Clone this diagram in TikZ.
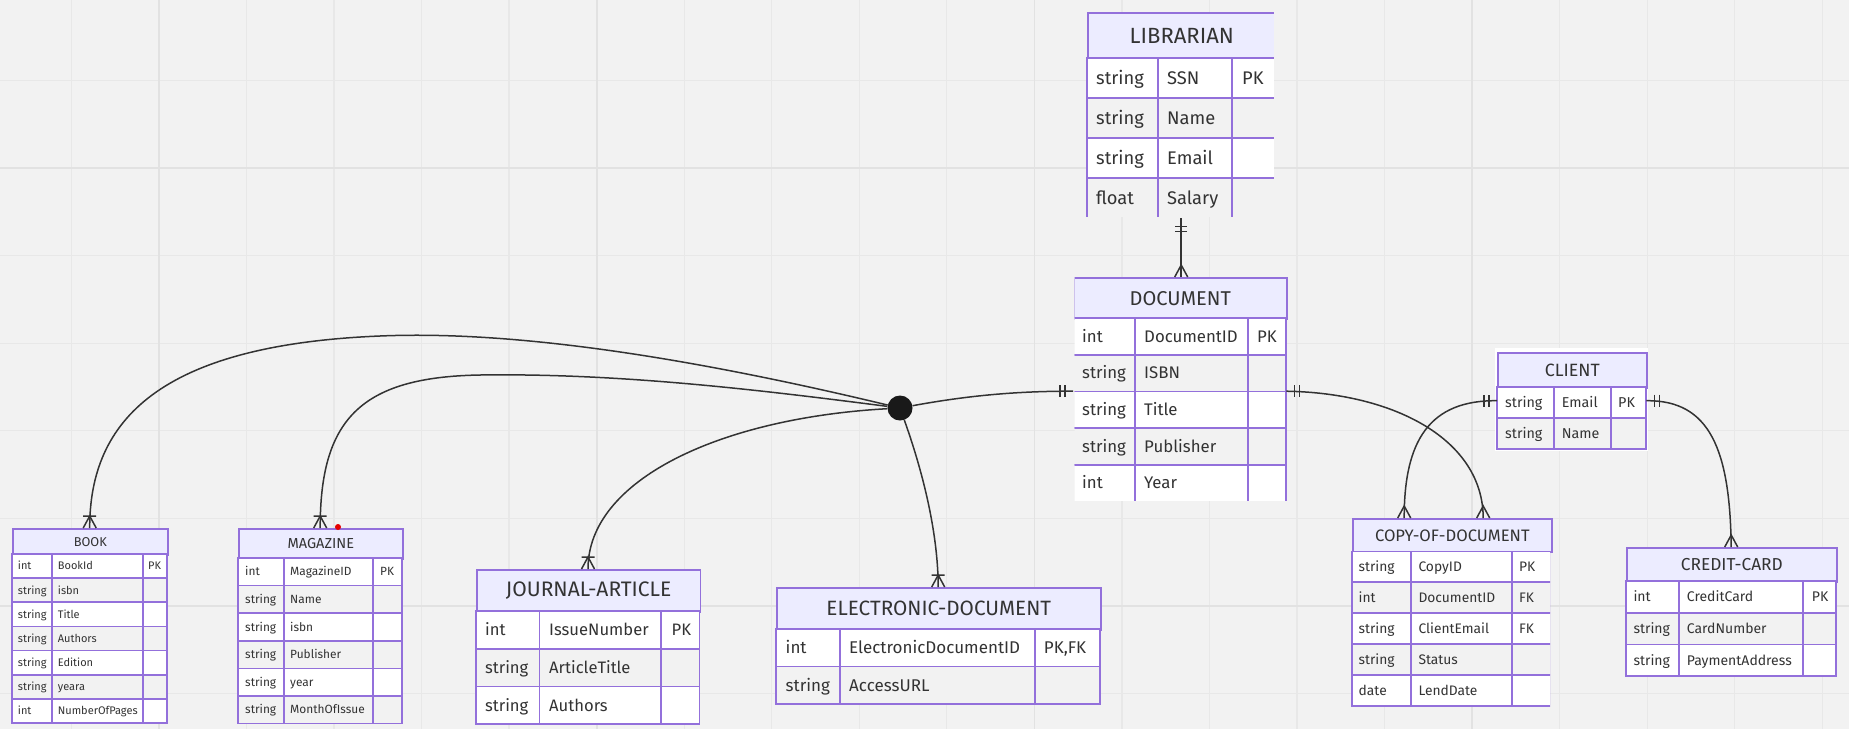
\documentclass[tikz,border=0pt]{standalone}
\usepackage{fontspec}
\setmainfont{Fira Sans}
\definecolor{bg}{HTML}{F2F2F2}
\definecolor{gridminor}{HTML}{E8E8E8}
\definecolor{gridmajor}{HTML}{E2E2E2}
\definecolor{hdrfill}{HTML}{ECECFF}
\definecolor{edge}{HTML}{9370DB}
\definecolor{rowgray}{HTML}{F2F2F2}
\definecolor{ink}{HTML}{333333}

\begin{document}
\begin{tikzpicture}[x=1pt, y=-1pt,
		entity/.style={rectangle, draw=none, anchor=north west, inner sep=0pt},
		hdr/.style={rectangle, draw=edge, line width=1.6pt, fill=hdrfill, anchor=north west, inner sep=0pt, text=ink},
		cell/.style={draw=edge, line width=1.6pt},
		attr/.style={anchor=base west, inner sep=0pt, text=ink},
		rel/.style={draw=ink, line width=1.5pt},
		hub/.style={circle, fill=black!90, inner sep=0pt, minimum size=25pt},
		reddot/.style={circle, fill=red!90!black, inner sep=0pt, minimum size=6pt},
		gridline/.style={draw=gridminor, line width=1.2pt},
		gridbold/.style={draw=gridmajor, line width=1.8pt},
		pics/many/.style={code={\draw[rel] (-6.5pt,0pt) -- (0pt,12pt) -- (6.5pt,0pt);}},
		pics/manyone/.style={code={\draw[rel] (-6.5pt,0pt) -- (0pt,12pt) -- (6.5pt,0pt) (-6.5pt,12pt) -- (6.5pt,12pt);}},
		pics/one/.style={code={\draw[rel] (-6pt,8pt) -- (6pt,8pt) (-6pt,13pt) -- (6pt,13pt);}},
	]
	\useasboundingbox (0,0) rectangle (1849,729);
	\fill[bg] (0,0) rectangle (1849,729);
	\foreach \k in {0,...,20} \draw[gridline] (71.3+87.55*\k,0) -- ++(0,729);
	\foreach \k in {0,...,7} \draw[gridline] (0,80.5+87.55*\k) -- ++(1849,0);
	\foreach \k in {0,...,3} \draw[gridbold] (159+437.75*\k,0) -- ++(0,729);
	\foreach \k in {0,1} \draw[gridbold] (0,168+437.75*\k) -- ++(1849,0);

	% LIBRARIAN
	\node[entity, minimum width=188, minimum height=206] (librarian) at (1087,12) {};
	\begin{scope}[font=\fontsize{18.3}{22}\selectfont]
		\clip (1080,5) rectangle (1273.8,216.8);
		\node[hdr, minimum width=188, minimum height=46, font=\fontsize{22}{26}\selectfont] (librarian-h) at (1087,12) {LIBRARIAN};
		\foreach \ty/\nm/\ky [count=\i from 0] in {string/SSN/PK, string/Name/{}, string/Email/{}, float/Salary/{}} {
			\pgfmathsetmacro\ya{58+40*\i}
			\ifodd\i\relax\def\rf{rowgray}\else\def\rf{white}\fi
			\draw[cell, fill=\rf] (1087,\ya) rectangle +(71,40) (1158,\ya) rectangle +(74,40) (1232,\ya) rectangle +(43,40);
			\node[attr] (librarian-t\i) at (1096,\ya+26.3) {\ty};
			\node[attr] (librarian-n\i) at (1167,\ya+26.3) {\nm};
			\node[attr] (librarian-k\i) at (1242,\ya+26.3) {\ky};
		}
	\end{scope}

	% DOCUMENT
	\node[entity, minimum width=213, minimum height=228] (document) at (1073,277) {};
	\begin{scope}[font=\fontsize{16.8}{20}\selectfont]
		\clip (1074.5,270) rectangle (1295,500.6);
		\node[hdr, minimum width=213, minimum height=41, font=\fontsize{20}{24}\selectfont] (document-h) at (1073,277) {DOCUMENT};
		\foreach \ty/\nm/\ky [count=\i from 0] in {int/DocumentID/PK, string/ISBN/{}, string/Title/{}, string/Publisher/{}, int/Year/{}} {
			\pgfmathsetmacro\ya{318+36.7*\i}
			\ifodd\i\relax\def\rf{rowgray}\else\def\rf{white}\fi
			\draw[cell, fill=\rf] (1073,\ya) rectangle +(62,36.7) (1135,\ya) rectangle +(113,36.7) (1248,\ya) rectangle +(38,36.7);
			\node[attr] (document-t\i) at (1082,\ya+24.15) {\ty};
			\node[attr] (document-n\i) at (1144,\ya+24.15) {\nm};
			\node[attr] (document-k\i) at (1257,\ya+24.15) {\ky};
		}
	\end{scope}

	% BOOK
	\node[entity, minimum width=155, minimum height=195] (book) at (12,528) {};
	\begin{scope}[font=\fontsize{11}{13}\selectfont]
		\node[hdr, minimum width=155, minimum height=26, font=\fontsize{12.8}{15}\selectfont] (book-h) at (12,528) {BOOK};
		\foreach \ty/\nm/\ky [count=\i from 0] in {int/BookId/PK, string/isbn/{}, string/Title/{}, string/Authors/{}, string/Edition/{}, string/yeara/{}, int/NumberOfPages/{}} {
			\pgfmathsetmacro\ya{554+24.14*\i}
			\ifodd\i\relax\def\rf{rowgray}\else\def\rf{white}\fi
			\draw[cell, fill=\rf] (12,\ya) rectangle +(40,24.14) (52,\ya) rectangle +(91,24.14) (143,\ya) rectangle +(24,24.14);
			\node[attr] (book-t\i) at (17.7,\ya+15.9) {\ty};
			\node[attr] (book-n\i) at (57.7,\ya+15.9) {\nm};
			\node[attr] (book-k\i) at (148,\ya+15.9) {\ky};
		}
	\end{scope}

	% MAGAZINE
	\node[entity, minimum width=164, minimum height=195.6] (magazine) at (238,528) {};
	\begin{scope}[font=\fontsize{11.9}{14}\selectfont]
		\node[hdr, minimum width=164, minimum height=30, font=\fontsize{14.5}{17}\selectfont] (magazine-h) at (238,528) {MAGAZINE};
		\foreach \ty/\nm/\ky [count=\i from 0] in {int/MagazineID/PK, string/Name/{}, string/isbn/{}, string/Publisher/{}, string/year/{}, string/MonthOfIssue/{}} {
			\pgfmathsetmacro\ya{558+27.6*\i}
			\ifodd\i\relax\def\rf{rowgray}\else\def\rf{white}\fi
			\draw[cell, fill=\rf] (238,\ya) rectangle +(46,27.6) (284,\ya) rectangle +(89,27.6) (373,\ya) rectangle +(29,27.6);
			\node[attr] (magazine-t\i) at (245,\ya+17.9) {\ty};
			\node[attr] (magazine-n\i) at (290,\ya+17.9) {\nm};
			\node[attr] (magazine-k\i) at (380,\ya+17.9) {\ky};
		}
	\end{scope}
	\node[reddot] (mark) at (338,527) {};

	% JOURNAL-ARTICLE
	\node[entity, minimum width=223.6, minimum height=155] (journal) at (476,569) {};
	\begin{scope}[font=\fontsize{16.6}{20}\selectfont]
		\node[hdr, minimum width=223.6, minimum height=42, font=\fontsize{21}{25}\selectfont] (journal-h) at (476,569) {JOURNAL-ARTICLE};
		\foreach \ty/\nm/\ky [count=\i from 0] in {int/IssueNumber/PK, string/ArticleTitle/{}, string/Authors/{}} {
			\pgfmathsetmacro\ya{611+37.7*\i}
			\ifodd\i\relax\def\rf{rowgray}\else\def\rf{white}\fi
			\draw[cell, fill=\rf] (476,\ya) rectangle +(63.6,37.7) (539.6,\ya) rectangle +(121.4,37.7) (661,\ya) rectangle +(38.6,37.7);
			\node[attr] (journal-t\i) at (484.9,\ya+24.6) {\ty};
			\node[attr] (journal-n\i) at (549,\ya+24.6) {\nm};
			\node[attr] (journal-k\i) at (671.4,\ya+24.6) {\ky};
		}
	\end{scope}

	% ELECTRONIC-DOCUMENT
	\node[entity, minimum width=324, minimum height=117] (electronic) at (776,587) {};
	\begin{scope}[font=\fontsize{17}{20}\selectfont]
		\node[hdr, minimum width=324, minimum height=42, font=\fontsize{20.7}{25}\selectfont] (electronic-h) at (776,587) {ELECTRONIC-DOCUMENT};
		\foreach \ty/\nm/\ky [count=\i from 0] in {int/ElectronicDocumentID/{PK,FK}, string/AccessURL/{}} {
			\pgfmathsetmacro\ya{629+37.5*\i}
			\ifodd\i\relax\def\rf{rowgray}\else\def\rf{white}\fi
			\draw[cell, fill=\rf] (776,\ya) rectangle +(64,37.5) (840,\ya) rectangle +(195,37.5) (1035,\ya) rectangle +(65,37.5);
			\node[attr] (electronic-t\i) at (785.5,\ya+24.6) {\ty};
			\node[attr] (electronic-n\i) at (849,\ya+24.6) {\nm};
			\node[attr] (electronic-k\i) at (1043.7,\ya+24.6) {\ky};
		}
	\end{scope}

	% COPY-OF-DOCUMENT
	\node[entity, minimum width=199, minimum height=188.5] (copy) at (1352,518) {};
	\begin{scope}[font=\fontsize{13.8}{17}\selectfont]
		\node[hdr, minimum width=199, minimum height=33, font=\fontsize{16.6}{20}\selectfont] (copy-h) at (1352,518) {COPY-OF-DOCUMENT};
		\clip (1340,551) rectangle (1550.2,706.2);
		\foreach \ty/\nm/\ky [count=\i from 0] in {string/CopyID/PK, int/DocumentID/FK, string/ClientEmail/FK, string/Status/{}, date/LendDate/{}} {
			\pgfmathsetmacro\ya{551+31*\i}
			\ifodd\i\relax\def\rf{rowgray}\else\def\rf{white}\fi
			\draw[cell, fill=\rf] (1352,\ya) rectangle +(59,31) (1411,\ya) rectangle +(101,31) (1512,\ya) rectangle +(39,31);
			\node[attr] (copy-t\i) at (1358.5,\ya+20.3) {\ty};
			\node[attr] (copy-n\i) at (1418.3,\ya+20.3) {\nm};
			\node[attr] (copy-k\i) at (1519,\ya+20.3) {\ky};
		}
	\end{scope}

	% CLIENT
	\fill[white] (1495,348) rectangle (1647.5,451);
	\node[entity, minimum width=149, minimum height=97] (client) at (1497,352) {};
	\begin{scope}[font=\fontsize{14.3}{17}\selectfont]
		\node[hdr, minimum width=149, minimum height=35, font=\fontsize{17.8}{21}\selectfont] (client-h) at (1497,352) {CLIENT};
		\foreach \ty/\nm/\ky [count=\i from 0] in {string/Email/PK, string/Name/{}} {
			\pgfmathsetmacro\ya{387+31*\i}
			\ifodd\i\relax\def\rf{rowgray}\else\def\rf{white}\fi
			\draw[cell, fill=\rf] (1497,\ya) rectangle +(57,31) (1554,\ya) rectangle +(57,31) (1611,\ya) rectangle +(35,31);
			\node[attr] (client-t\i) at (1505,\ya+20.4) {\ty};
			\node[attr] (client-n\i) at (1561.7,\ya+20.4) {\nm};
			\node[attr] (client-k\i) at (1618,\ya+20.4) {\ky};
		}
	\end{scope}

	% CREDIT-CARD
	\node[entity, minimum width=210, minimum height=129] (card) at (1626,547) {};
	\begin{scope}[font=\fontsize{14}{17}\selectfont]
		\node[hdr, minimum width=210, minimum height=34, font=\fontsize{17.3}{21}\selectfont] (card-h) at (1626,547) {CREDIT-CARD};
		\foreach \ty/\nm/\ky [count=\i from 0] in {int/CreditCard/PK, string/CardNumber/{}, string/PaymentAddress/{}} {
			\pgfmathsetmacro\ya{581+31.7*\i}
			\ifodd\i\relax\def\rf{rowgray}\else\def\rf{white}\fi
			\draw[cell, fill=\rf] (1626,\ya) rectangle +(53,31.7) (1679,\ya) rectangle +(124,31.7) (1803,\ya) rectangle +(33,31.7);
			\node[attr] (card-t\i) at (1633.3,\ya+20.7) {\ty};
			\node[attr] (card-n\i) at (1686.7,\ya+20.7) {\nm};
			\node[attr] (card-k\i) at (1811.7,\ya+20.7) {\ky};
		}
	\end{scope}

	% relationships
	\node[hub] (hub) at (900,408) {};
	\draw[rel] (librarian.south) -- (librarian.south |- document.north);
	\draw[rel] (hub) .. controls (960,397) and (1010,391) .. (document.west);
	\draw[rel] (hub) .. controls (700,360) and (520,330) .. (380,336) .. controls (160,345) and (89.5,420) .. (book.north);
	\draw[rel] (hub) .. controls (760,390) and (620,373) .. (480,375) .. controls (360,377) and (320,420) .. (magazine.north);
	\draw[rel] (hub) .. controls (720,418) and (587.8,480) .. (journal.north);
	\draw[rel] (hub) .. controls (915,450) and (938,520) .. (electronic.north);
	\draw[rel] (document.east) .. controls (1395,393) and (1483,440) .. ([xshift=31.5pt]copy.north);
	\draw[rel] (client.west) .. controls (1430,400) and (1404,440) .. ([xshift=-47.5pt]copy.north);
	\draw[rel] (client.east) .. controls (1710,400) and (1730,450) .. (card.north);

	\pic[rotate=180] at (librarian.south) {one};
	\pic at (librarian.south |- document.north) {many};
	\pic[rotate=90] at (document.west) {one};
	\pic[rotate=-90] at (document.east) {one};
	\pic at (book.north) {manyone};
	\pic at (magazine.north) {manyone};
	\pic at (journal.north) {manyone};
	\pic at (electronic.north) {manyone};
	\pic at ([xshift=31.5pt]copy.north) {many};
	\pic at ([xshift=-47.5pt]copy.north) {many};
	\pic[rotate=90] at (client.west) {one};
	\pic[rotate=-90] at (client.east) {one};
	\pic at (card.north) {many};
\end{tikzpicture}
\end{document}
